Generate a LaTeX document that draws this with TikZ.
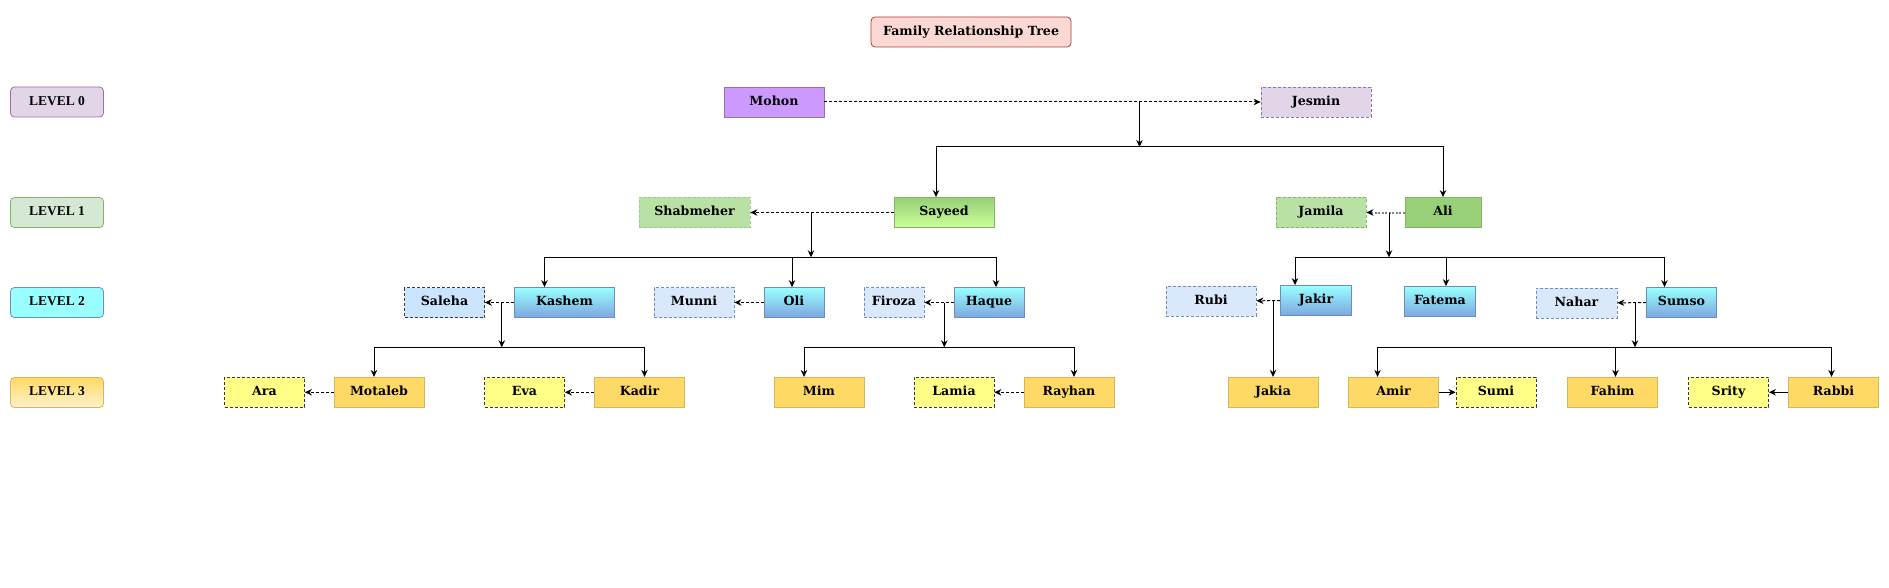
\documentclass[tikz,border=0pt]{standalone}
\usepackage{fontspec}
\setmainfont{DejaVu Serif}
\newfontfamily\lvlfont{Liberation Serif}
\usepackage{xcolor}
\usepackage{tikz}
\usetikzlibrary{shapes,arrows,positioning,calc,arrows.meta}

\definecolor{titlefill}{HTML}{FAD9D5}
\definecolor{titleline}{HTML}{AE4132}
\definecolor{purpfill}{HTML}{E1D5E7}
\definecolor{purpline}{HTML}{9673A6}
\definecolor{mohonfill}{HTML}{CC99FF}
\definecolor{grnfill}{HTML}{D5E8D4}
\definecolor{grnline}{HTML}{82B366}
\definecolor{grnmid}{HTML}{97D077}
\definecolor{grnlight}{HTML}{CCFF99}
\definecolor{grnspouse}{HTML}{B9E0A5}
\definecolor{cyanfill}{HTML}{99FFFF}
\definecolor{bluebot}{HTML}{7EA6E0}
\definecolor{blueline}{HTML}{6C8EBF}
\definecolor{bluespouse}{HTML}{DAE8FC}
\definecolor{salehafill}{HTML}{CCE5FF}
\definecolor{darkline}{HTML}{36393D}
\definecolor{goldfill}{HTML}{FFD966}
\definecolor{goldline}{HTML}{D6B656}
\definecolor{goldlight}{HTML}{FFF2CC}
\definecolor{yelfill}{HTML}{FFFF88}

\tikzset{
  box/.style={draw, minimum height=30pt, inner sep=0pt, line width=0.8pt,
    text height=9pt, text depth=2.8pt,
    font=\bfseries\fontsize{12.6}{14}\selectfont},
  lvl/.style={box, rounded corners=4pt, minimum width=93pt,
    font=\lvlfont\bfseries\fontsize{13.5}{15}\selectfont},
  spouse/.style={box, dash pattern=on 3pt off 2pt},
  kid1/.style={box, top color=grnmid, bottom color=grnlight, draw=grnline},
  kid2/.style={box, top color=cyanfill, bottom color=bluebot, draw=blueline},
  wife2/.style={spouse, fill=bluespouse, draw=blueline},
  kid3/.style={box, fill=goldfill, draw=goldline, minimum width=90pt},
  wife3/.style={spouse, fill=yelfill, draw=darkline, minimum width=80pt},
  tree/.style={-{Stealth[length=7pt,width=6.5pt]}, line width=1pt},
  wed/.style={tree, dash pattern=on 3pt off 2pt},
}

\begin{document}
\begin{tikzpicture}[x=1pt, y=-1pt]
    \useasboundingbox (0,0) rectangle (1889,588);

    % title and levels
    \node[box, rounded corners=4pt, fill=titlefill, draw=titleline, minimum width=200pt] (title) at (971,32) {Family Relationship Tree};
    \node[lvl, fill=purpfill, draw=purpline] (lvl0) at (57,102) {LEVEL 0};
    \node[lvl, fill=grnfill, draw=grnline] (lvl1) at (57,212.5) {LEVEL 1};
    \node[lvl, fill=cyanfill, draw=blueline] (lvl2) at (57,302.5) {LEVEL 2};
    \node[lvl, top color=goldfill, bottom color=goldlight, draw=goldline] (lvl3) at (57,392.5) {LEVEL 3};

    % level 0
    \node[box, fill=mohonfill, draw=purpline, minimum width=100pt] (mohon) at (774,102) {Mohon};
    \node[spouse, fill=purpfill, draw=purpline, minimum width=110pt] (jesmin) at (1316,102) {Jesmin};

    % level 1
    \node[spouse, fill=grnspouse, draw=grnline!45!grnspouse, minimum width=111pt] (shabmeher) at (694.5,212.5) {Shabmeher};
    \node[kid1, minimum width=100pt] (sayeed) at (944,212.5) {Sayeed};
    \node[spouse, fill=grnspouse, draw=grnline, minimum width=90pt] (jamila) at (1321,212.5) {Jamila};
    \node[box, fill=grnmid, draw=grnline, minimum width=76pt] (ali) at (1443,212.5) {Ali};

    % level 2
    \node[spouse, fill=salehafill, draw=darkline, minimum width=80pt] (saleha) at (444.5,302.5) {Saleha};
    \node[kid2, minimum width=100pt] (kashem) at (564.5,302.5) {Kashem};
    \node[wife2, minimum width=80pt] (munni) at (694,302.5) {Munni};
    \node[kid2, minimum width=60pt] (oli) at (794,302.5) {Oli};
    \node[wife2, minimum width=60pt] (firoza) at (894,302.5) {Firoza};
    \node[kid2, minimum width=70pt] (haque) at (989,302.5) {Haque};
    \node[wife2, minimum width=90pt] (rubi) at (1211,301) {Rubi};
    \node[kid2, minimum width=71pt] (jakir) at (1316,300.5) {Jakir};
    \node[kid2, minimum width=71pt] (fatema) at (1440,301.5) {Fatema};
    \node[wife2, minimum width=81pt] (nahar) at (1576.5,303) {Nahar};
    \node[kid2, minimum width=70pt] (sumso) at (1681.5,302.5) {Sumso};

    % level 3
    \node[wife3] (ara) at (264.5,392.3) {Ara};
    \node[kid3] (motaleb) at (379,392.3) {Motaleb};
    \node[wife3] (eva) at (524.5,392.3) {Eva};
    \node[kid3] (kadir) at (639.5,392.3) {Kadir};
    \node[kid3] (mim) at (819,392.3) {Mim};
    \node[wife3] (lamia) at (954,392.3) {Lamia};
    \node[kid3] (rayhan) at (1069,392.3) {Rayhan};
    \node[kid3] (jakia) at (1273,392.3) {Jakia};
    \node[kid3] (amir) at (1393.5,392.3) {Amir};
    \node[wife3] (sumi) at (1496,392.3) {Sumi};
    \node[kid3] (fahim) at (1612.5,392.3) {Fahim};
    \node[wife3] (srity) at (1728.5,392.3) {Srity};
    \node[kid3] (rabbi) at (1833.5,392.3) {Rabbi};

    % couples and their children
    \draw[wed] (mohon) -- (jesmin);
    \coordinate (mj) at (1139.5,102);
    \coordinate (mjbar) at (1139.5,147);
    \draw[tree] (mj) -- (mjbar);
    \draw[tree] (mjbar) -| ([xshift=-8pt]sayeed.north);
    \draw[tree] (mjbar) -| (ali.north);

    \draw[wed] (sayeed) -- (shabmeher);
    \coordinate (ss) at (811,212.5);
    \coordinate (ssbar) at (811,257.3);
    \draw[tree] (ss) -- (ssbar);
    \draw[tree] (ssbar) -| ([xshift=-20pt]kashem.north);
    \draw[tree] (ssbar) -| ([xshift=-2pt]oli.north);
    \draw[tree] (ssbar) -| ([xshift=7pt]haque.north);

    \draw[-{Stealth[length=7pt,width=6.5pt,color=black]}, draw=gray, line width=2pt, dash pattern=on 2pt off 1.5pt] (ali) -- (jamila);
    \coordinate (aj) at (1389,212.5);
    \coordinate (ajbar) at (1389,257.3);
    \draw[tree] (aj) -- (ajbar);
    \draw[tree] (ajbar) -| ([xshift=-21pt]jakir.north);
    \draw[tree] (ajbar) -| ([xshift=6pt]fatema.north);
    \draw[tree] (ajbar) -| ([xshift=-17pt]sumso.north);

    \draw[wed] (kashem) -- (saleha);
    \coordinate (ks) at (501.8,302.5);
    \coordinate (ksbar) at (501.8,347.3);
    \draw[tree] (ks) -- (ksbar);
    \draw[tree] (ksbar) -| ([xshift=-5pt]motaleb.north);
    \draw[tree] (ksbar) -| ([xshift=5pt]kadir.north);

    \draw[wed] (oli) -- (munni);

    \draw[wed] (haque) -- (firoza);
    \coordinate (hf) at (944.3,302.5);
    \coordinate (hfbar) at (944.3,347.3);
    \draw[tree] (hf) -- (hfbar);
    \draw[tree] (hfbar) -| ([xshift=-15pt]mim.north);
    \draw[tree] (hfbar) -| ([xshift=5pt]rayhan.north);

    \draw[wed] (jakir) -- (rubi);
    \coordinate (jr) at (1273,300.7);
    \draw[tree] (jr) -- (jakia.north);

    \draw[wed] (sumso) -- (nahar);
    \coordinate (sn) at (1635,302.7);
    \coordinate (snbar) at (1635,347.3);
    \draw[tree] (sn) -- (snbar);
    \draw[tree] (snbar) -| ([xshift=-16pt]amir.north);
    \draw[tree] (snbar) -| ([xshift=3pt]fahim.north);
    \draw[tree] (snbar) -| ([xshift=-2pt]rabbi.north);

    \draw[wed] (motaleb) -- (ara);
    \draw[wed] (kadir) -- (eva);
    \draw[wed] (rayhan) -- (lamia);
    \draw[tree] (amir) -- (sumi);
    \draw[tree] (rabbi) -- (srity);
\end{tikzpicture}
\end{document}
